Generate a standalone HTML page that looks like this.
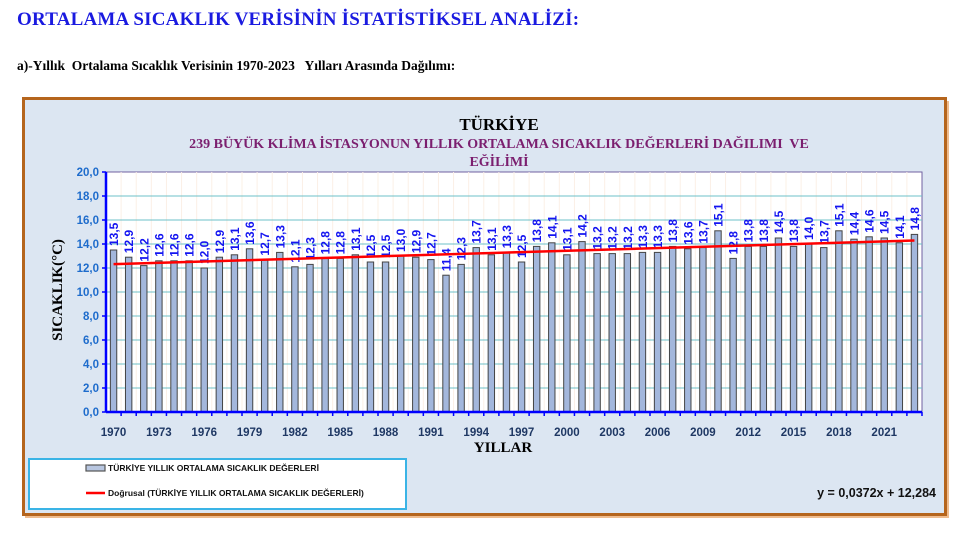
<!DOCTYPE html>
<html><head><meta charset="utf-8"><style>
body{margin:0;background:#fff;width:963px;height:536px;overflow:hidden;position:relative;font-family:"Liberation Serif",serif}
.h1{position:absolute;left:17px;top:9px;font-size:19px;font-weight:bold;color:#1a1aE0;letter-spacing:0.2px}
.h2{position:absolute;left:17px;top:58px;font-size:13.5px;font-weight:bold;color:#000}
</style></head><body>
<div class="h1">ORTALAMA SICAKLIK VERİSİNİN İSTATİSTİKSEL ANALİZİ:</div>
<div class="h2">a)-Yıllık&nbsp; Ortalama Sıcaklık Verisinin 1970-2023&nbsp;&nbsp; Yılları Arasında Dağılımı:</div>
<svg id="s" width="963" height="536" style="position:absolute;left:0;top:0" xmlns="http://www.w3.org/2000/svg">
<rect x="25" y="101" width="924" height="417" fill="#e8a060" opacity="0.7"/>
<rect x="23.5" y="98.5" width="922" height="416" fill="#dce6f2" stroke="#b5651d" stroke-width="3"/>
<rect x="106" y="172" width="816" height="240" fill="#fff" stroke="#7060a0" stroke-width="1"/>
<g id="g"></g>
<text x="499" y="130" text-anchor="middle" font-size="17" font-weight="bold" font-family="Liberation Serif,serif">TÜRKİYE</text>
<text x="499" y="148" text-anchor="middle" font-size="14" font-weight="bold" fill="#7b1f6f" font-family="Liberation Serif,serif">239 BÜYÜK KLİMA İSTASYONUN YILLIK ORTALAMA SICAKLIK DEĞERLERİ DAĞILIMI&nbsp; VE</text>
<text x="499" y="166" text-anchor="middle" font-size="14" font-weight="bold" fill="#7b1f6f" font-family="Liberation Serif,serif">EĞİLİMİ</text>
<text transform="translate(62,290) rotate(-90)" text-anchor="middle" font-size="15" font-weight="bold" font-family="Liberation Serif,serif">SICAKLIK(°C)</text>
<text x="503" y="452" text-anchor="middle" font-size="15" font-weight="bold" font-family="Liberation Serif,serif">YILLAR</text>
<rect x="29" y="459" width="377" height="50" fill="#fff" stroke="#3ab4e6" stroke-width="2"/>
<rect x="86" y="465" width="19" height="6" fill="#b8c6e0" stroke="#555" stroke-width="1.2"/>
<text x="108" y="471" font-size="8.5" font-weight="bold" font-family="Liberation Sans,sans-serif" fill="#111">TÜRKİYE YILLIK ORTALAMA SICAKLIK DEĞERLERİ</text>
<line x1="86" y1="493" x2="105" y2="493" stroke="#f00" stroke-width="2.5"/>
<text x="108" y="496" font-size="8.5" font-weight="bold" font-family="Liberation Sans,sans-serif" fill="#111">Doğrusal (TÜRKİYE YILLIK ORTALAMA SICAKLIK DEĞERLERİ)</text>
<text x="936" y="497" text-anchor="end" font-size="12.5" font-weight="bold" font-family="Liberation Sans,sans-serif" fill="#111">y = 0,0372x + 12,284</text>
</svg>
<script>
var v=[13.5,12.9,12.2,12.6,12.6,12.6,12.0,12.9,13.1,13.6,12.7,13.3,12.1,12.3,12.8,12.8,13.1,12.5,12.5,13.0,12.9,12.7,11.4,12.3,13.7,13.1,13.3,12.5,13.8,14.1,13.1,14.2,13.2,13.2,13.2,13.3,13.3,13.8,13.6,13.7,15.1,12.8,13.8,13.8,14.5,13.8,14.0,13.7,15.1,14.4,14.6,14.5,14.1,14.8];
var L=106,R=922,T=172,B=412,w=(R-L)/54,h='';
function Y(t){return B-t*12;}
for(var i=1;i<54;i++){var x=L+i*w;h+='<line x1="'+x+'" y1="'+T+'" x2="'+x+'" y2="'+B+'" stroke="#fbf0e6" stroke-width="1"/>';}
for(var k=1;k<10;k++){h+='<line x1="'+L+'" y1="'+Y(k*2)+'" x2="'+R+'" y2="'+Y(k*2)+'" stroke="#6cc0c8" stroke-width="1"/>';}
for(var k=0;k<=10;k++){h+='<text x="99" y="'+(Y(k*2)+4)+'" text-anchor="end" font-size="11.5" font-weight="bold" fill="#1e6ccc" font-family="Liberation Sans,sans-serif">'+(k*2).toFixed(1).replace('.',',')+'</text>';h+='<line x1="102" y1="'+Y(k*2)+'" x2="106" y2="'+Y(k*2)+'" stroke="#00f" stroke-width="1.5"/>';}
for(var i=0;i<54;i++){var c=L+w*(i+0.5),y=Y(v[i]);
h+='<rect x="'+(c-3.2)+'" y="'+y+'" width="6.4" height="'+(B-y)+'" fill="#a3b7dc" stroke="#444" stroke-width="1"/>';
h+='<text transform="translate('+(c+4.5)+','+(y-4)+') rotate(-90)" font-size="12" font-weight="bold" fill="#1414f0" font-family="Liberation Sans,sans-serif">'+v[i].toFixed(1).replace('.',',')+'</text>';
h+='<line x1="'+(L+w*(i+1))+'" y1="'+B+'" x2="'+(L+w*(i+1))+'" y2="'+(B+4)+'" stroke="#00f" stroke-width="1.5"/>';
if(i%3==0)h+='<text x="'+c+'" y="436" text-anchor="middle" font-size="11.5" font-weight="bold" fill="#1f3864" font-family="Liberation Sans,sans-serif">'+(1970+i)+'</text>';}
h+='<line x1="'+L+'" y1="'+T+'" x2="'+L+'" y2="'+B+'" stroke="#00f" stroke-width="2.5"/>';
h+='<line x1="'+L+'" y1="'+B+'" x2="'+R+'" y2="'+B+'" stroke="#00f" stroke-width="2.5"/>';
h+='<line x1="'+(L+w*0.5)+'" y1="'+Y(12.284+0.0372)+'" x2="'+(L+w*53.5)+'" y2="'+Y(12.284+0.0372*54)+'" stroke="#f00" stroke-width="2.5"/>';
document.getElementById('g').innerHTML=h;
</script>
</body></html>
